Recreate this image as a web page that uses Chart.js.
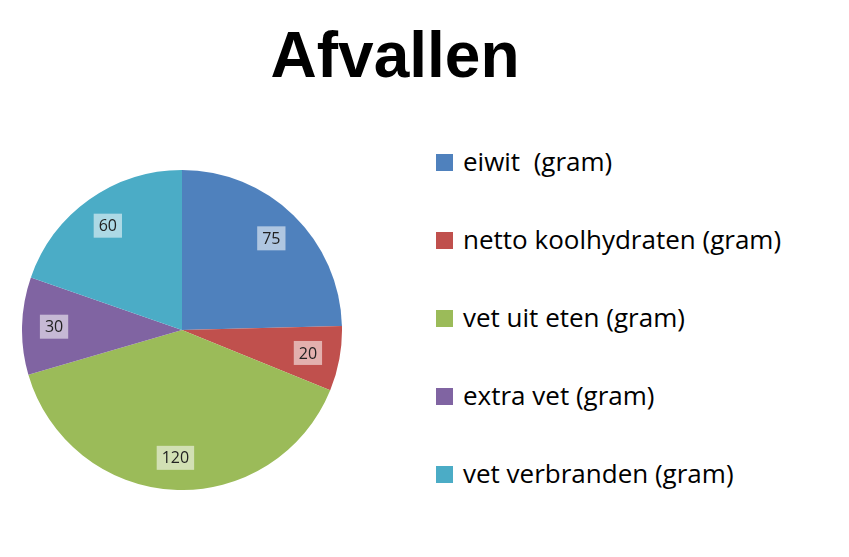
<!DOCTYPE html>
<html><head><meta charset="utf-8">
<script src="https://cdn.jsdelivr.net/npm/chart.js@4/dist/chart.umd.min.js"></script>
<style>
body{margin:0;width:849px;height:557px;background:#fff;position:relative;overflow:hidden;font-family:"Open Sans","Liberation Sans",sans-serif;}
#title{position:absolute;left:0;width:790px;top:18px;text-align:center;font:bold 64px "Liberation Sans",Arial,sans-serif;color:#000;}
#wrap{position:absolute;left:22px;top:170px;width:320px;height:320px;}
#legend{position:absolute;left:436px;top:0;}
.li{position:absolute;left:0;white-space:nowrap;font-size:26px;color:#000;line-height:30px;}
.sw{display:inline-block;width:17px;height:17px;margin-right:10px;vertical-align:0px;}
</style></head><body>
<div id="title">Afvallen</div>
<div id="wrap"><canvas id="c"></canvas></div>
<div id="legend"></div>
<script>
const categories=["eiwit  (gram)","netto koolhydraten (gram)","vet uit eten (gram)","extra vet (gram)","vet verbranden (gram)"];
const values=[75,20,120,30,60];
const colors=["#4F81BD","#C0504D","#9BBB59","#8064A2","#4BACC6"];
const lg=document.getElementById('legend');
categories.forEach((c,i)=>{const d=document.createElement('div');d.className='li';d.style.top=(146+i*78)+'px';
d.innerHTML='<span class="sw" style="background:'+colors[i]+'"></span>'+c.replace(/ /g,'&nbsp;');lg.appendChild(d);});
const labelPlugin={id:'lbl',afterDatasetsDraw(chart){const ctx=chart.ctx;const meta=chart.getDatasetMeta(0);
ctx.save();ctx.font='16px "Open Sans","Liberation Sans",sans-serif';ctx.textAlign='center';ctx.textBaseline='middle';
meta.data.forEach((a,i)=>{const p=a.getProps(['x','y','startAngle','endAngle','outerRadius'],true);
const m=(p.startAngle+p.endAngle)/2,r=p.outerRadius*0.8;const x=p.x+Math.cos(m)*r,y=p.y+Math.sin(m)*r;
const t=String(values[i]);const w=ctx.measureText(t).width+10,h=24;
ctx.fillStyle='rgba(255,255,255,0.55)';ctx.fillRect(x-w/2,y-h/2,w,h);ctx.fillStyle='#222';ctx.fillText(t,x,y+1);});
ctx.restore();}};
new Chart(document.getElementById('c'),{type:'pie',data:{labels:categories,datasets:[{data:values,backgroundColor:colors,borderWidth:0}]},
options:{responsive:true,maintainAspectRatio:false,animation:false,plugins:{legend:{display:false},tooltip:{enabled:false}}},plugins:[labelPlugin]});
</script></body></html>
